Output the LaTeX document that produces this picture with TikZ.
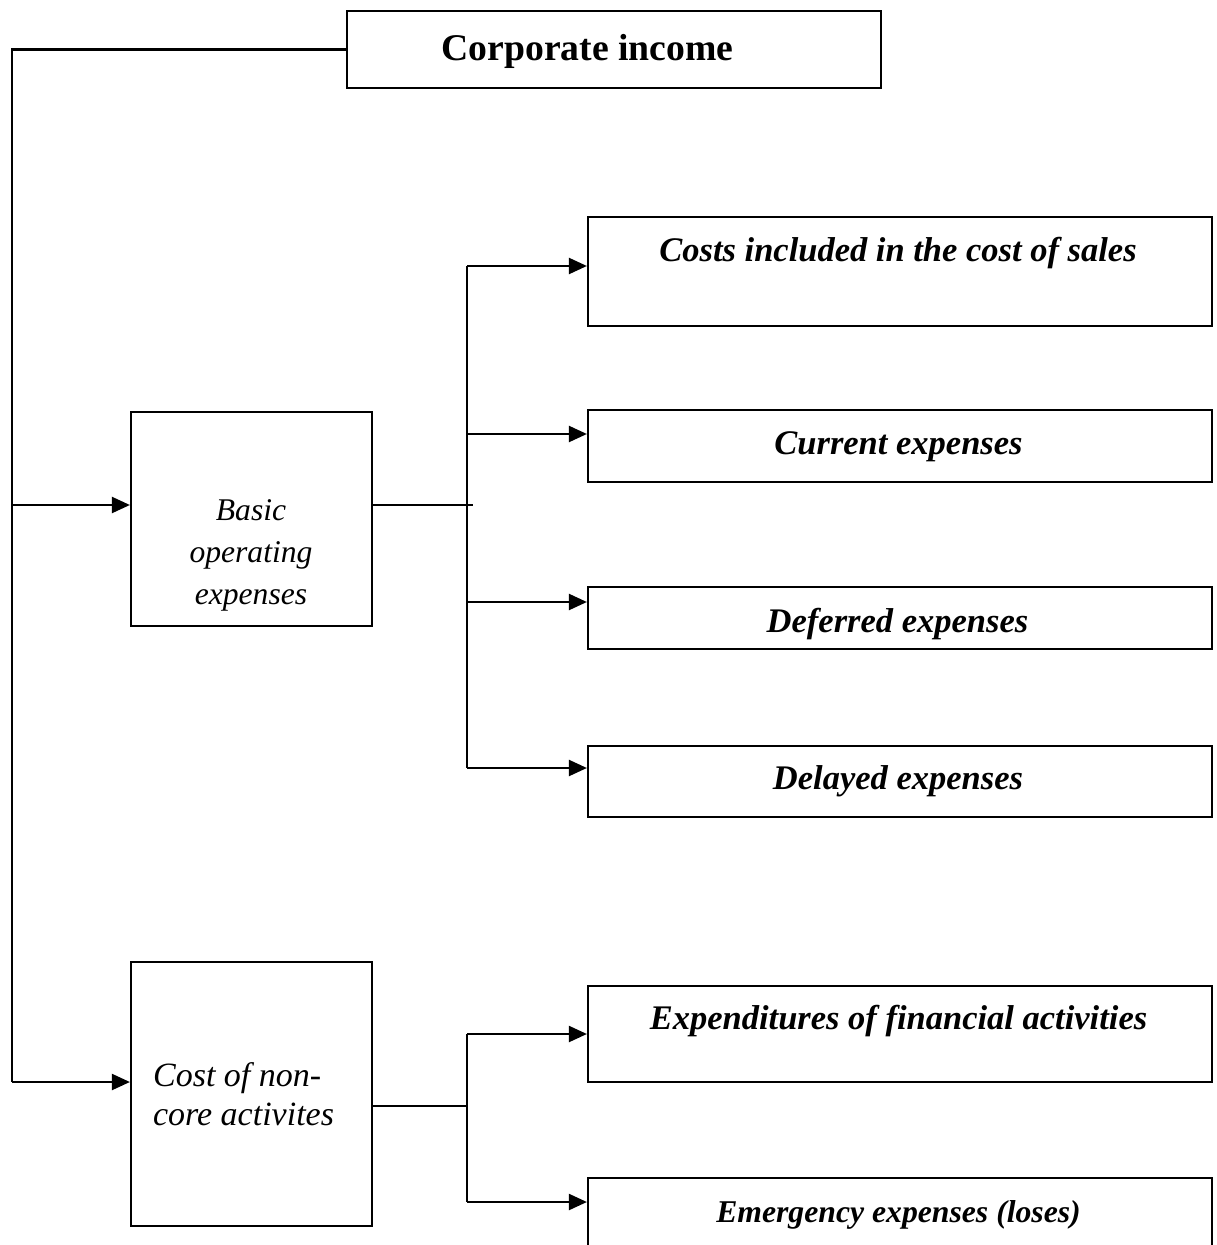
\documentclass[tikz,border=0pt]{standalone}
\usepackage{fontspec}
\setmainfont{Liberation Serif}
\usetikzlibrary{arrows.meta}

\begin{document}
\begin{tikzpicture}[x=0.5pt,y=-0.5pt,line width=1.1pt,
    box/.style={draw=black,rectangle,inner sep=0pt},
    wide/.style={box,minimum width=312pt},
    narrow/.style={box,minimum width=120.5pt},
    head/.style={inner sep=0pt,font=\fontsize{17.25}{20}\selectfont\bfseries\itshape},
    arr/.style={-{Triangle[length=9pt,width=8pt]}}]
\useasboundingbox (0,0) rectangle (1216,1245);
\clip (0,0) rectangle (1216,1245);

% boxes
\node[box,minimum width=267pt,minimum height=38.5pt] (income) at (614,49.5) {};
\node[narrow,minimum height=107pt] (basic) at (251.5,519) {};
\node[narrow,minimum height=132pt] (cost) at (251.5,1094) {};
\node[wide,minimum height=54.5pt] (sales) at (900,271.5) {};
\node[wide,minimum height=36pt] (current) at (900,446) {};
\node[wide,minimum height=31pt] (deferred) at (900,618) {};
\node[wide,minimum height=35.5pt] (delayed) at (900,781.5) {};
\node[wide,minimum height=48pt] (finance) at (900,1034) {};
\node[wide,minimum height=45pt] (emergency) at (900,1223) {};

% texts
\node[inner sep=0pt,font=\fontsize{18.85}{22}\selectfont\bfseries] (income-t) at (587.5,51) {Corporate income};
\node[inner sep=0pt,align=center,font=\fontsize{15.8}{21}\selectfont\itshape] (basic-t) at (251,555) {Basic\\operating\\expenses};
\node[inner sep=0pt,anchor=west,align=left,font=\fontsize{17}{19.5}\selectfont\itshape] (cost-t) at (152,1094) {Cost of non-\\core activites};
\node[head] (sales-t) at (898,253) {Costs included in the cost of sales};
\node[head] (current-t) at (898.5,447) {Current expenses};
\node[head] (deferred-t) at (897.5,624) {Deferred expenses};
\node[head] (delayed-t) at (898,781) {Delayed expenses};
\node[head] (finance-t) at (898.5,1021) {Expenditures of financial activities};
\node[head,font=\fontsize{15.85}{19}\selectfont\bfseries\itshape] (emergency-t) at (898.5,1215) {Emergency expenses (loses)};

% trunk on the left
\coordinate (tapA) at (12,505);
\coordinate (tapB) at (12,1082);
\draw (income.west) -| (tapB);
\draw[arr] (tapA) -- (tapA -| basic.west);
\draw[arr] (tapB) -- (tapB -| cost.west);

% upper fork
\foreach \y/\b in {266/sales,434/current,602/deferred,768/delayed}{
  \coordinate (f-\b) at (467,\y);
  \draw[arr] (f-\b) -- (f-\b -| \b.west);
}
\draw (f-sales) -- (f-delayed);
\draw (tapA -| basic.east) -- ++(100,0);

% lower fork
\foreach \y/\b in {1034/finance,1202/emergency}{
  \coordinate (f-\b) at (467,\y);
  \draw[arr] (f-\b) -- (f-\b -| \b.west);
}
\draw (f-finance) -- (f-emergency);
\coordinate (forkB) at (467,1106);
\draw (forkB -| cost.east) -- (forkB);
\end{tikzpicture}
\end{document}
